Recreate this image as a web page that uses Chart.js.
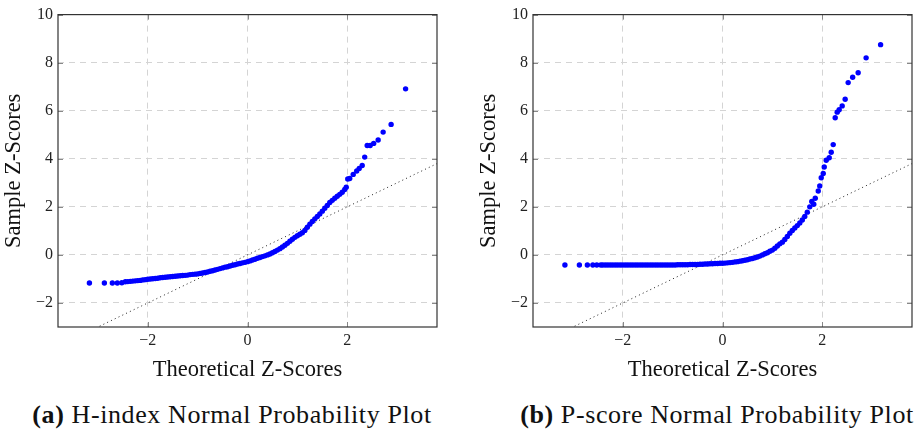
<!DOCTYPE html>
<html>
<head>
<meta charset="utf-8">
<script src="https://cdn.jsdelivr.net/npm/chart.js@4/dist/chart.umd.min.js"></script>
<style>
  html, body { margin: 0; padding: 0; background: #fff; }
  body { width: 922px; height: 431px; position: relative; overflow: hidden; }
  .box { position: absolute; top: 0; }
  .cap { position: absolute; top: 400px; font-family: "Liberation Serif", serif; font-size: 26px; letter-spacing: 0.6px; color: #111; white-space: nowrap; transform: translateX(-50%); }
  .cap b { font-family: "Liberation Serif", serif; font-weight: bold; }
</style>
</head>
<body>
<div class="box" style="left:0px;width:461px;height:392px"><canvas id="hindex"></canvas></div>
<div class="box" style="left:475px;width:447px;height:392px"><canvas id="pscore"></canvas></div>
<div class="cap" style="left:232px"><b>(a)</b> H-index Normal Probability Plot</div>
<div class="cap" style="left:717px"><b>(b)</b> P-score Normal Probability Plot</div>
<script>
// H-index: theoretical vs sample z-scores
const hIndexX = [-3.17, -2.87, -2.71, -2.61, -2.52,
  -2.45, -2.40, -2.35, -2.30, -2.25, -2.20, -2.15, -2.10, -2.05, -2.00,
  -1.95, -1.90, -1.85, -1.80, -1.75, -1.70, -1.65, -1.60, -1.55, -1.50,
  -1.45, -1.40, -1.35, -1.30, -1.25, -1.20, -1.15, -1.10, -1.05, -1.00,
  -0.95, -0.90, -0.85, -0.80, -0.75, -0.70, -0.65, -0.60, -0.55, -0.50,
  -0.45, -0.40, -0.35, -0.30, -0.25, -0.20, -0.15, -0.10, -0.05, 0.00,
  0.05, 0.10, 0.15, 0.20, 0.25, 0.30, 0.35, 0.40, 0.45, 0.50,
  0.55, 0.60, 0.65, 0.70, 0.75, 0.80, 0.85, 0.90, 0.95, 1.00,
  1.05, 1.10, 1.15, 1.20, 1.25, 1.30, 1.35, 1.40, 1.45, 1.50,
  1.55, 1.60, 1.65, 1.70, 1.75, 1.80, 1.85, 1.90, 1.95, 1.98,
  2.01, 2.05, 2.12, 2.19, 2.24, 2.30, 2.35, 2.40, 2.46, 2.53, 2.62, 2.72, 2.88, 3.17];
const hIndexY = [-1.17, -1.17, -1.17, -1.17, -1.16,
  -1.12, -1.11, -1.10, -1.09, -1.08, -1.07, -1.06, -1.04, -1.03, -1.01,
  -1.00, -0.99, -0.98, -0.97, -0.95, -0.94, -0.93, -0.92, -0.91, -0.90,
  -0.89, -0.88, -0.87, -0.86, -0.85, -0.84, -0.82, -0.81, -0.80, -0.79,
  -0.77, -0.75, -0.73, -0.71, -0.68, -0.66, -0.63, -0.60, -0.57, -0.54,
  -0.51, -0.49, -0.46, -0.43, -0.41, -0.38, -0.36, -0.33, -0.31, -0.28,
  -0.25, -0.21, -0.18, -0.14, -0.11, -0.07, -0.04, 0.00, 0.04, 0.09,
  0.14, 0.20, 0.26, 0.33, 0.40, 0.48, 0.57, 0.65, 0.73, 0.80,
  0.86, 0.92, 1.02, 1.15, 1.28, 1.39, 1.50, 1.60, 1.70, 1.82,
  1.94, 2.06, 2.18, 2.27, 2.36, 2.44, 2.52, 2.61, 2.72, 2.82,
  3.16, 3.18, 3.35, 3.49, 3.60, 3.72, 4.07, 4.55, 4.55, 4.64, 4.78, 5.11, 5.43, 6.91];

// P-score: theoretical vs sample z-scores
const pScoreX = [-3.16, -2.87, -2.71, -2.60, -2.52, -2.44,
  -2.40, -2.35, -2.30, -2.25, -2.20, -2.15, -2.10, -2.05, -2.00,
  -1.95, -1.90, -1.85, -1.80, -1.75, -1.70, -1.65, -1.60, -1.55, -1.50,
  -1.45, -1.40, -1.35, -1.30, -1.25, -1.20, -1.15, -1.10, -1.05, -1.00,
  -0.95, -0.90, -0.85, -0.80, -0.75, -0.70, -0.65, -0.60, -0.55, -0.50,
  -0.45, -0.40, -0.35, -0.30, -0.25, -0.20, -0.15, -0.10, -0.05, 0.00,
  0.05, 0.10, 0.15, 0.20, 0.25, 0.30, 0.35, 0.40, 0.45, 0.50,
  0.55, 0.60, 0.65, 0.70, 0.75, 0.80, 0.85, 0.90, 0.95, 1.00,
  1.05, 1.10, 1.15, 1.20, 1.25, 1.30, 1.35, 1.40, 1.45, 1.50,
  1.55, 1.60, 1.65, 1.70, 1.75, 1.79,
  1.83, 1.86, 1.92, 1.95, 1.98, 2.02, 2.04, 2.08, 2.14, 2.18, 2.22,
  2.26, 2.30, 2.34, 2.40, 2.46, 2.52, 2.61, 2.72, 2.88, 3.17];
const pScoreY = [-0.42, -0.42, -0.42, -0.42, -0.42, -0.42,
  -0.42, -0.42, -0.42, -0.42, -0.42, -0.42, -0.42, -0.42, -0.42,
  -0.42, -0.42, -0.42, -0.42, -0.42, -0.42, -0.42, -0.42, -0.42, -0.42,
  -0.42, -0.42, -0.42, -0.42, -0.42, -0.42, -0.42, -0.42, -0.42, -0.42,
  -0.42, -0.41, -0.41, -0.41, -0.41, -0.41, -0.40, -0.40, -0.40, -0.40,
  -0.39, -0.39, -0.38, -0.38, -0.37, -0.37, -0.36, -0.36, -0.35, -0.35,
  -0.34, -0.33, -0.32, -0.31, -0.29, -0.28, -0.26, -0.24, -0.22, -0.20,
  -0.17, -0.15, -0.12, -0.09, -0.05, 0.00, 0.05, 0.09, 0.15, 0.20,
  0.28, 0.37, 0.46, 0.53, 0.64, 0.77, 0.90, 1.02, 1.12, 1.22,
  1.33, 1.45, 1.60, 1.78, 2.00, 2.22,
  2.11, 2.36, 2.66, 2.87, 3.21, 3.39, 3.66, 3.94, 4.04, 4.27, 4.59,
  5.71, 5.94, 6.04, 6.20, 6.48, 7.17, 7.39, 7.58, 8.20, 8.75];

// y = x reference line
const refX = [-3.8, 3.8];
const refY = [-3.8, 3.8];

const xTicks = [-2, 0, 2];
const yTicks = [-2, 0, 2, 4, 6, 8, 10];

function toPoints(xs, ys) {
  return xs.map((x, i) => ({ x: x, y: ys[i] }));
}

function minus(v) {
  return String(v).replace("-", "\u2212");
}

// plot frame plus small inward ticks on all four sides
const frame = {
  id: "frame",
  afterDraw(chart) {
    const { ctx, chartArea: a, scales } = chart;
    ctx.save();
    ctx.strokeStyle = "#888";
    ctx.lineWidth = 1;
    ctx.beginPath();
    xTicks.forEach(t => {
      const px = Math.round(scales.x.getPixelForValue(t)) + 0.5;
      ctx.moveTo(px, a.top); ctx.lineTo(px, a.top + 5);
      ctx.moveTo(px, a.bottom); ctx.lineTo(px, a.bottom - 5);
    });
    yTicks.forEach(t => {
      const py = Math.round(scales.y.getPixelForValue(t)) + 0.5;
      ctx.moveTo(a.left, py); ctx.lineTo(a.left + 5, py);
      ctx.moveTo(a.right, py); ctx.lineTo(a.right - 5, py);
    });
    ctx.stroke();
    ctx.strokeStyle = "#333";
    ctx.lineWidth = 1.2;
    ctx.strokeRect(a.left, a.top, a.right - a.left, a.bottom - a.top);
    ctx.restore();
  }
};

function makeChart(id, xs, ys, padRight) {
  const ctx = document.getElementById(id).getContext("2d");
  return new Chart(ctx, {
    type: "scatter",
    data: {
      datasets: [
        {
          data: toPoints(xs, ys),
          backgroundColor: "#0000ff",
          borderWidth: 0,
          pointRadius: 2.7,
          order: 1
        },
        {
          type: "line",
          data: toPoints(refX, refY),
          borderColor: "#222",
          borderWidth: 1,
          borderDash: [1, 3.2],
          pointRadius: 0,
          fill: false,
          order: 2
        }
      ]
    },
    options: {
      responsive: true,
      maintainAspectRatio: false,
      animation: false,
      events: [],
      layout: { padding: { left: 0, top: 12, right: padRight, bottom: 0 } },
      plugins: { legend: { display: false }, tooltip: { enabled: false } },
      scales: {
        x: {
          type: "linear",
          min: -3.8,
          max: 3.8,
          afterFit(scale) { scale.height = 65; },
          ticks: {
            stepSize: 2,
            includeBounds: false,
            padding: 4,
            color: "#222",
            font: { family: "'Liberation Serif', serif", size: 16 },
            callback: v => minus(v)
          },
          grid: { color: "#d4d4d4", drawTicks: false, lineWidth: 1 },
          border: { display: false, dash: [6, 5] },
          title: {
            display: true,
            text: "Theoretical Z-Scores",
            color: "#111",
            font: { family: "'Liberation Serif', serif", size: 22.5 },
            padding: { top: 0, bottom: 8 }
          }
        },
        y: {
          type: "linear",
          min: -3,
          max: 10,
          afterFit(scale) { scale.width = 58; },
          ticks: {
            stepSize: 2,
            includeBounds: false,
            padding: 5,
            color: "#222",
            font: { family: "'Liberation Serif', serif", size: 16 },
            callback: v => minus(v)
          },
          grid: { color: "#d4d4d4", drawTicks: false, lineWidth: 1 },
          border: { display: false, dash: [6, 5] },
          title: {
            display: true,
            text: "Sample Z-Scores",
            color: "#111",
            font: { family: "'Liberation Serif', serif", size: 22.5 },
            padding: { top: 1, bottom: 0 }
          }
        }
      }
    },
    plugins: [frame]
  });
}

makeChart("hindex", hIndexX, hIndexY, 24);
makeChart("pscore", pScoreX, pScoreY, 10);
</script>
</body>
</html>
